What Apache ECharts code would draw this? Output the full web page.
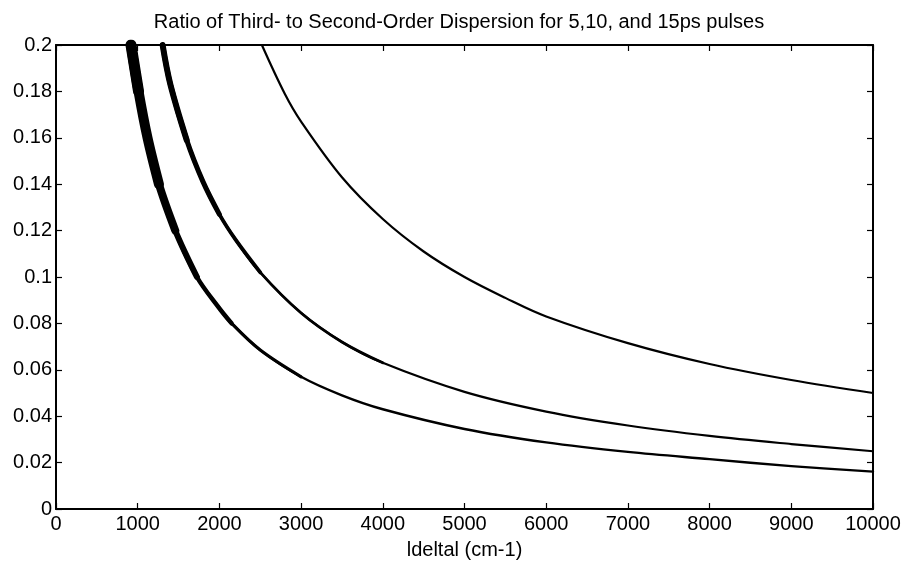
<!DOCTYPE html>
<html>
<head>
<meta charset="utf-8">
<script src="https://cdn.jsdelivr.net/npm/echarts@6/dist/echarts.min.js"></script>
<style>
  html, body { margin: 0; padding: 0; background: #fff; }
  #chart { width: 907px; height: 565px; }
</style>
</head>
<body>
<div id="chart"></div>
<script>
// Ratio of third- to second-order dispersion vs. ldelta, one curve per pulse width
const xTicks = [0, 1000, 2000, 3000, 4000, 5000, 6000, 7000, 8000, 9000, 10000];
const yTicks = [0, 0.02, 0.04, 0.06, 0.08, 0.1, 0.12, 0.14, 0.16, 0.18, 0.2];

// 5 ps pulse
const pulse5 = [
  [2520, 0.2], [2800, 0.179], [3000, 0.167], [3500, 0.143], [4000, 0.125],
  [4500, 0.111], [5000, 0.1], [5500, 0.091], [6000, 0.083], [7000, 0.0715],
  [8000, 0.0625], [9000, 0.0556], [10000, 0.05]
];
// 10 ps pulse
const pulse10 = [
  [1305, 0.2], [1400, 0.183], [1600, 0.159], [1800, 0.141], [2000, 0.127],
  [2200, 0.116], [2500, 0.102], [3000, 0.0845], [3500, 0.072], [4000, 0.063],
  [5000, 0.0505], [6000, 0.042], [7000, 0.036], [8000, 0.0315], [9000, 0.028],
  [10000, 0.0249]
];
// 15 ps pulse
const pulse15 = [
  [918, 0.2], [1010, 0.18], [1120, 0.16], [1260, 0.14], [1460, 0.12],
  [1725, 0.1], [2000, 0.0865], [2150, 0.08], [2500, 0.0685],
  [3000, 0.057], [3500, 0.049], [4000, 0.043], [5000, 0.0345], [6000, 0.0287],
  [7000, 0.0246], [8000, 0.0215], [9000, 0.0185], [10000, 0.0161]
];

const FONT = '"Liberation Sans", Arial, Helvetica, sans-serif';

function curve(data, width) {
  return {
    type: 'line',
    data: data,
    showSymbol: false,
    smooth: 0.35,
    clip: true,
    silent: true,
    lineStyle: { color: '#000', width: width, cap: 'round', join: 'round' },
    animation: false
  };
}
// the steep upper parts of the narrower-pulse curves are drawn heavier,
// tapering towards the thin tail
const above = (data, y) => data.filter(p => p[1] >= y);
function tapered(data, base, steps) {
  return [curve(data, base)].concat(steps.map(s => curve(above(data, s[0]), s[1])));
}

const axisLine = { show: true, onZero: false, lineStyle: { color: '#000', width: 2 } };
const tick = { show: true, inside: true, length: 6, lineStyle: { color: '#000', width: 1.2 } };
const labelStyle = { color: '#000', fontFamily: FONT, fontSize: 20 };

const chart = echarts.init(document.getElementById('chart'), null, { renderer: 'canvas' });
chart.setOption({
  backgroundColor: '#fff',
  animation: false,
  title: {
    text: 'Ratio of Third- to Second-Order Dispersion for 5,10, and 15ps pulses',
    left: 454, top: 7, textAlign: 'center',
    textStyle: { color: '#000', fontFamily: FONT, fontSize: 20, fontWeight: 'normal' }
  },
  grid: { left: 56, top: 45, right: 34, bottom: 53 },
  xAxis: [
    {
      type: 'value', min: xTicks[0], max: xTicks[xTicks.length - 1], interval: 1000,
      position: 'bottom',
      name: 'ldeltal (cm-1)', nameLocation: 'middle', nameGap: 31,
      nameTextStyle: { color: '#000', fontFamily: FONT, fontSize: 20 },
      axisLine: axisLine, axisTick: tick,
      axisLabel: Object.assign({ margin: 5, formatter: v => String(v) }, labelStyle),
      splitLine: { show: false }
    },
    {
      type: 'value', min: xTicks[0], max: xTicks[xTicks.length - 1], interval: 1000,
      position: 'top',
      axisLine: axisLine, axisTick: tick,
      axisLabel: { show: false }, splitLine: { show: false }
    }
  ],
  yAxis: [
    {
      type: 'value', min: yTicks[0], max: yTicks[yTicks.length - 1], interval: 0.02,
      position: 'left',
      axisLine: axisLine, axisTick: tick,
      axisLabel: Object.assign({ margin: 4, formatter: v => String(+v.toFixed(2)) }, labelStyle),
      splitLine: { show: false }
    },
    {
      type: 'value', min: yTicks[0], max: yTicks[yTicks.length - 1], interval: 0.02,
      position: 'right',
      axisLine: axisLine, axisTick: tick,
      axisLabel: { show: false }, splitLine: { show: false }
    }
  ],
  series: [].concat(
    [curve(pulse5, 2.2)],
    tapered(pulse10, 2.2, [[0.06, 2.8], [0.09, 3.8], [0.12, 5], [0.15, 6]]),
    tapered(pulse15, 2.4, [[0.05, 3.2], [0.07, 4.5], [0.09, 6], [0.11, 8], [0.14, 10], [0.17, 11]])
  )
});
</script>
</body>
</html>
